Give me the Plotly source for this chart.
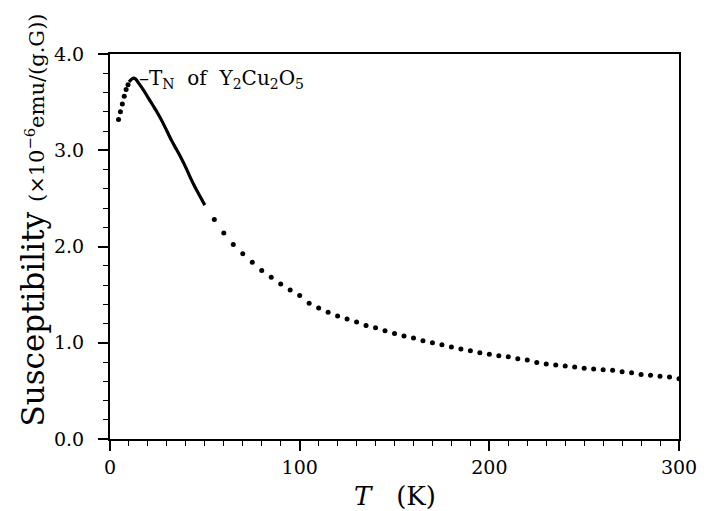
import plotly.graph_objects as go

# Low-temperature dots below T_N
t_low = [4.5, 5.5, 6.5, 7.5, 8.5, 9.5]
chi_low = [3.32, 3.40, 3.48, 3.56, 3.63, 3.68]

# Densely measured region (appears as a solid curve)
t_dense = [10.0, 11.5, 12.5, 13.5, 15.0, 17.5, 20.0, 22.5, 25.0, 27.5, 30.0,
           32.5, 35.0, 37.5, 40.0, 42.5, 45.0, 47.5, 50.0]
chi_dense = [3.71, 3.74, 3.75, 3.74, 3.70, 3.63, 3.55, 3.47, 3.39, 3.30, 3.20,
             3.10, 3.01, 2.92, 2.82, 2.71, 2.61, 2.52, 2.43]

# High-temperature dots every 5 K
t_high = [55, 60, 65, 70, 75, 80, 85, 90, 95, 100, 105, 110, 115, 120, 125,
          130, 135, 140, 145, 150, 155, 160, 165, 170, 175, 180, 185, 190,
          195, 200, 205, 210, 215, 220, 225, 230, 235, 240, 245, 250, 255,
          260, 265, 270, 275, 280, 285, 290, 295, 300]
chi_high = [2.28, 2.14, 2.02, 1.925, 1.836, 1.75, 1.68, 1.61, 1.548, 1.49,
            1.41, 1.36, 1.316, 1.278, 1.247, 1.216, 1.18, 1.157, 1.125, 1.097,
            1.07, 1.049, 1.021, 1.0, 0.98, 0.956, 0.935, 0.917, 0.897, 0.88,
            0.866, 0.855, 0.833, 0.82, 0.795, 0.78, 0.77, 0.758, 0.748, 0.734,
            0.727, 0.72, 0.713, 0.698, 0.689, 0.67, 0.662, 0.651, 0.644, 0.625]

x_ticks = [0, 100, 200, 300]
y_ticks = [0.0, 1.0, 2.0, 3.0, 4.0]
y_tick_text = ["0.0", "1.0", "2.0", "3.0", "4.0"]

SERIF = "DejaVu Serif"

fig = go.Figure()
fig.add_trace(go.Scatter(x=t_low, y=chi_low, mode="markers",
                         marker=dict(color="black", size=5), showlegend=False))
fig.add_trace(go.Scatter(x=t_dense, y=chi_dense, mode="lines",
                         line=dict(color="black", width=3.2, shape="spline"),
                         showlegend=False))
fig.add_trace(go.Scatter(x=t_high, y=chi_high, mode="markers",
                         marker=dict(color="black", size=5), showlegend=False))

fig.update_layout(
    width=709, height=511,
    margin=dict(l=110, r=21, t=54, b=72),
    paper_bgcolor="white", plot_bgcolor="white",
    font=dict(family=SERIF, color="black"),
    xaxis=dict(range=[0, 300], tickvals=x_ticks, showgrid=False, zeroline=False,
               showline=True, mirror=True, linecolor="black", linewidth=2,
               ticks="outside", ticklen=10, tickwidth=1.5, tickcolor="black",
               tickfont=dict(family=SERIF, size=19),
               minor=dict(dtick=10, ticks="outside", ticklen=5, tickwidth=1.2,
                          tickcolor="black", showgrid=False)),
    yaxis=dict(range=[0, 4], tickvals=y_ticks, ticktext=y_tick_text,
               showgrid=False, zeroline=False,
               showline=True, mirror=True, linecolor="black", linewidth=2,
               ticks="outside", ticklen=10, tickwidth=1.5, tickcolor="black",
               ticklabelstandoff=10,
               tickfont=dict(family=SERIF, size=19),
               minor=dict(dtick=0.2, ticks="outside", ticklen=5, tickwidth=1.2,
                          tickcolor="black", showgrid=False)),
    annotations=[
        dict(x=14, y=3.74, xref="x", yref="y", xanchor="left", yanchor="middle",
             showarrow=False,
             text="–T<sub>N</sub>&nbsp;&nbsp;of&nbsp;&nbsp;Y<sub>2</sub>Cu<sub>2</sub>O<sub>5</sub>",
             font=dict(family=SERIF, size=20, color="black")),
        dict(x=-0.135, y=0.568, xref="paper", yref="paper", xanchor="center",
             yanchor="middle", showarrow=False, textangle=-90,
             text="Susceptibility <span style='font-size:21px'>(×10<sup>−6</sup>emu/(g.G))</span>",
             font=dict(family=SERIF, size=31, color="black")),
        dict(x=0.5, y=-0.148, xref="paper", yref="paper", xanchor="center",
             yanchor="middle", showarrow=False,
             text="<i>T</i>&nbsp;&nbsp;&nbsp;(K)",
             font=dict(family=SERIF, size=26, color="black")),
    ],
)

fig.write_html("out.html", config={"displayModeBar": False},
               post_script="document.body.style.margin='0';document.body.style.overflow='hidden';")
